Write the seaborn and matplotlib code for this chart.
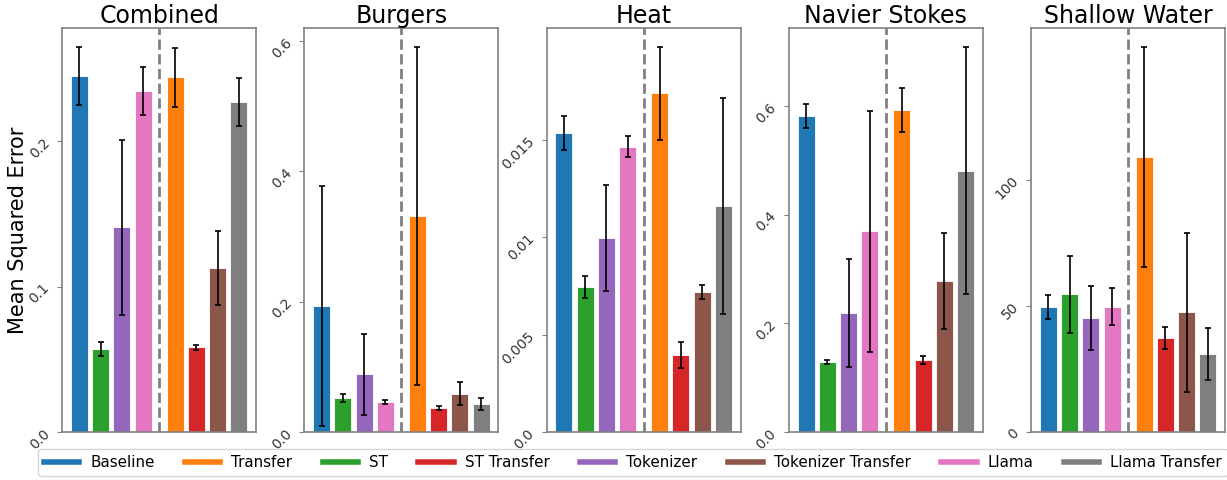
import matplotlib
matplotlib.use("Agg")
import matplotlib.pyplot as plt
from matplotlib.lines import Line2D
import numpy as np
import pandas as pd
import seaborn as sns

# ---- data ----
legend_order = ["Baseline", "Transfer", "ST", "ST Transfer", "Tokenizer",
                "Tokenizer Transfer", "Llama", "Llama Transfer"]
plot_order = ["Baseline", "ST", "Tokenizer", "Llama",
              "Transfer", "ST Transfer", "Tokenizer Transfer", "Llama Transfer"]
datasets = ["Combined", "Burgers", "Heat", "Navier Stokes", "Shallow Water"]

combined_mse = [0.2449, 0.0570, 0.1407, 0.2344, 0.2440, 0.0582, 0.1127, 0.2270]
combined_err = [0.0197, 0.0047, 0.0600, 0.0163, 0.0203, 0.0017, 0.0257, 0.0166]
burgers_mse = [0.1933, 0.0527, 0.0885, 0.0465, 0.3314, 0.0363, 0.0588, 0.0430]
burgers_err = [0.1842, 0.0062, 0.0624, 0.0033, 0.2588, 0.0031, 0.0174, 0.0090]
heat_mse = [0.01536, 0.00744, 0.00998, 0.01465, 0.01738, 0.00396, 0.00719, 0.01160]
heat_err = [0.00087, 0.00055, 0.00272, 0.00056, 0.00237, 0.00065, 0.00038, 0.00553]
navier_mse = [0.5815, 0.1293, 0.2188, 0.3690, 0.5931, 0.1330, 0.2776, 0.4804]
navier_err = [0.0226, 0.0040, 0.1000, 0.2210, 0.0405, 0.0077, 0.0882, 0.2274]
shallow_mse = [49.5, 54.5, 45.1, 49.6, 108.9, 37.3, 47.4, 30.8]
shallow_err = [4.7, 15.1, 12.6, 7.3, 43.5, 4.4, 31.4, 10.4]

ytick_values = [[0.0, 0.1, 0.2], [0.0, 0.2, 0.4, 0.6], [0.0, 0.005, 0.01, 0.015],
                [0.0, 0.2, 0.4, 0.6], [0, 50, 100]]
ytick_labels = [["0.0", "0.1", "0.2"], ["0.0", "0.2", "0.4", "0.6"],
                ["0.0", "0.005", "0.01", "0.015"], ["0.0", "0.2", "0.4", "0.6"],
                ["0", "50", "100"]]

all_mse = [combined_mse, burgers_mse, heat_mse, navier_mse, shallow_mse]
all_err = [combined_err, burgers_err, heat_err, navier_err, shallow_err]

# ---- style / layout ----
colors = dict(zip(legend_order, ["#1f77b4", "#ff7f0e", "#2ca02c", "#d62728",
                                 "#9467bd", "#8c564b", "#e377c2", "#7f7f7f"]))
positions = [0, 1, 2, 3, 4.5, 5.5, 6.5, 7.5]
divider_x = 3.75

fig, axes = plt.subplots(1, 5, figsize=(12.27, 4.8), dpi=100)
fig.subplots_adjust(left=0.0505, right=0.9986, top=0.9417, bottom=0.1, wspace=0.2474)

for ax, name, mse, err, tv, tl in zip(axes, datasets, all_mse, all_err,
                                      ytick_values, ytick_labels):
    df = pd.DataFrame({"pos": positions, "mse": mse, "model": plot_order})
    sns.barplot(data=df, x="pos", y="mse", hue="model", palette=colors,
                native_scale=True, dodge=False, saturation=1, legend=False,
                edgecolor="white", linewidth=0.6, ax=ax)
    ax.errorbar(df["pos"], df["mse"], yerr=err, fmt="none", ecolor="black",
                elinewidth=1.2, capsize=2.5, capthick=1.2, zorder=5)
    ax.axvline(divider_x, color="gray", linestyle="--", linewidth=2, zorder=4)
    ax.set_xlim(-0.815, 8.315)
    top = max(m + e for m, e in zip(mse, err)) * 1.05
    ax.set_ylim(0, top)
    ax.set_xticks([])
    ax.set_xlabel("")
    ax.set_ylabel("")
    ax.set_yticks(tv)
    ax.set_yticklabels(tl, rotation=45, fontsize=10, color="#333333")
    ax.tick_params(axis="y", color="gray", length=3.5)
    for s in ax.spines.values():
        s.set_color("gray")
        s.set_linewidth(1.2)
    ax.set_title(name, fontsize=17, pad=3)

axes[0].set_ylabel("Mean Squared Error", fontsize=15, labelpad=-1)

handles = [Line2D([0], [0], color=colors[m], linewidth=4) for m in legend_order]
fig.legend(handles, legend_order, loc="center", bbox_to_anchor=(0.5157, 0.036),
           ncol=8, fontsize=10.9, handlelength=2.35, handletextpad=0.72,
           columnspacing=2.0, frameon=True)

fig.savefig("out.png", dpi=100)
